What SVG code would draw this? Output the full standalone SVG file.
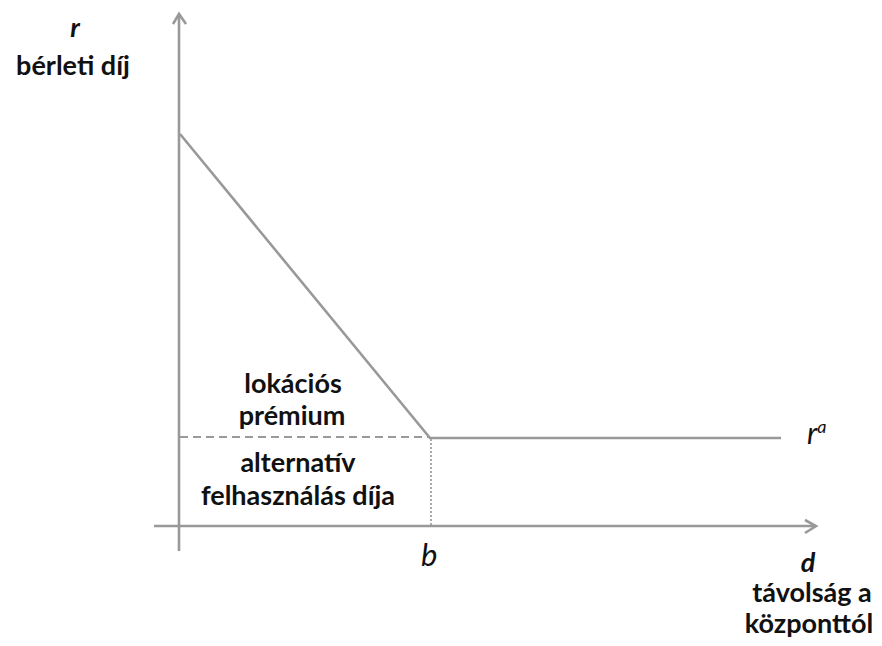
<svg xmlns="http://www.w3.org/2000/svg" width="882" height="646" viewBox="0 0 882 646">
<style>
.ax{stroke:#999;stroke-width:2.6;fill:none}
.t{font-family:Lato,"Liberation Sans",sans-serif;font-weight:bold;font-size:27px;fill:#111;text-anchor:middle}
.i{font-family:Lato,"Liberation Sans",sans-serif;font-style:italic;fill:#111}
</style>
<rect width="882" height="646" fill="#fff"/>
<g id="connectors">
<path class="ax" d="M179,551 V14"/>
<path class="ax" d="M173,24 L179,14 L186,24"/>
<path class="ax" d="M154,526 H816"/>
<path class="ax" d="M805,520 L816,526 L805,533"/>
<path class="ax" d="M180,134 L430,438 H781"/>
<path d="M180,437 H430" stroke="#999" stroke-width="2" stroke-dasharray="8,5" fill="none"/>
<path d="M431,439 V526" stroke="#aaa" stroke-width="2" stroke-dasharray="2,2" fill="none"/>
</g>
<g id="label-r"><text class="t" x="75" y="37" font-style="italic" font-size="29">r</text>
<text class="t" x="73" y="75">bérleti díj</text></g>
<g id="label-premium"><text class="t" x="293" y="393">lokációs</text>
<text class="t" x="292" y="425">prémium</text></g>
<g id="label-alt"><text class="t" x="298" y="472">alternatív</text>
<text class="t" x="298" y="505">felhasználás díja</text></g>
<g id="label-ra"><text class="i" x="807" y="444" font-size="30">r<tspan font-size="18" dy="-11">a</tspan></text></g>
<g id="label-b"><text class="i" x="421" y="566" font-size="31">b</text></g>
<g id="label-d"><text class="t" x="808" y="572" font-style="italic" font-size="27">d</text>
<text class="t" x="812" y="602" font-size="26">távolság a</text>
<text class="t" x="809" y="633" font-size="26">központtól</text></g>
</svg>
